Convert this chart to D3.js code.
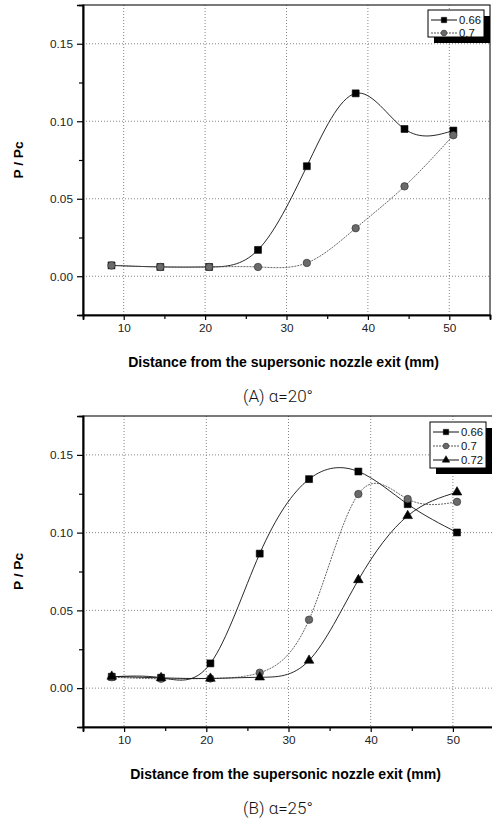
<!DOCTYPE html>
<html>
<head>
<meta charset="utf-8">
<script src="https://cdn.jsdelivr.net/npm/d3@7"></script>
<style>
  body { margin: 0; background: #fff; }
  svg { display: block; }
</style>
</head>
<body>
<div id="chart"></div>
<script>
let svgWidth = 492;
let svgHeight = 822;

// distance from nozzle exit (mm), same stations for every series
let distances = [8.5, 14.5, 20.5, 26.5, 32.5, 38.5, 44.5, 50.5];

// panel A, alpha = 20 deg
let seriesNamesA = ["0.66", "0.7"];
let a066 = [0.007, 0.006, 0.006, 0.017, 0.071, 0.118, 0.095, 0.094];
let a070 = [0.007, 0.006, 0.006, 0.006, 0.0086, 0.031, 0.058, 0.091];

// panel B, alpha = 25 deg
let seriesNamesB = ["0.66", "0.7", "0.72"];
let b066 = [0.0073, 0.0067, 0.0159, 0.0865, 0.1344, 0.1393, 0.1183, 0.1001];
let b070 = [0.007, 0.006, 0.0062, 0.0099, 0.044, 0.1248, 0.1216, 0.1198];
let b072 = [0.0075, 0.0066, 0.0062, 0.007, 0.0178, 0.0696, 0.1108, 0.126];

let xMajor = [10, 20, 30, 40, 50];
let xMinor = [15, 25, 35, 45];
let yMajor = [0, 0.05, 0.10, 0.15];
let yMinor = [0.025, 0.075, 0.125];

let xTitle = "Distance from the supersonic nozzle exit (mm)";
let yTitle = "P / Pc";

let sans = "Arimo, 'Liberation Sans', Arial, Helvetica, sans-serif";

let svg = d3.select("#chart")
    .append("svg")
    .attr("width", svgWidth)
    .attr("height", svgHeight);

// pick a font size so a sample string comes out at the wanted width
function fitSize(sample, weight, wanted) {
    let t = svg.append("text")
        .style("font-family", sans)
        .style("font-weight", weight)
        .style("font-size", "20px")
        .text(sample);
    let w = t.node().getComputedTextLength();
    t.remove();
    return w > 0 ? 20 * wanted / w : 12;
}

let tickSize = fitSize("0.15", "normal", 23);
let legendSize = fitSize("0.66", "normal", 22);
let titleSize = fitSize(xTitle, "bold", 311);
let yTitleSize = fitSize(yTitle, "bold", 37);

// marker styles per series index
let markerStyles = [
    { shape: d3.symbolSquare, size: 48, fill: "#000", stroke: "#000", line: "#111", dash: null },
    { shape: d3.symbolCircle, size: 44, fill: "#6a6a6a", stroke: "#2a2a2a", line: "#555", dash: "2,1" },
    { shape: d3.symbolTriangle, size: 40, fill: "#000", stroke: "#000", line: "#111", dash: null }
];

function drawPanel(box, names, seriesList, caption, legendBox) {
    let x = d3.scaleLinear().domain([5, 55]).range([box.left, box.right]);
    let y = d3.scaleLinear().domain([-0.025, 0.175]).range([box.bottom, box.top]);

    let g = svg.append("g");

    // dotted grid
    g.append("g").selectAll("line")
        .data(xMajor)
        .enter()
        .append("line")
        .attr("x1", d => x(d)).attr("x2", d => x(d))
        .attr("y1", box.top).attr("y2", box.bottom)
        .attr("stroke", "#777")
        .attr("stroke-width", 0.9)
        .attr("stroke-dasharray", "1,2");

    g.append("g").selectAll("line")
        .data(yMajor)
        .enter()
        .append("line")
        .attr("y1", d => y(d)).attr("y2", d => y(d))
        .attr("x1", box.left).attr("x2", box.right)
        .attr("stroke", "#777")
        .attr("stroke-width", 0.9)
        .attr("stroke-dasharray", "1,2");

    // frame
    g.append("rect")
        .attr("x", box.left).attr("y", box.top)
        .attr("width", box.right - box.left)
        .attr("height", box.bottom - box.top)
        .attr("fill", "none")
        .attr("stroke", "#222")
        .attr("stroke-width", 1.2);

    // axes
    let bottomAxis = d3.axisBottom(x).tickValues(xMajor).tickSize(5).tickPadding(4)
        .tickFormat(d3.format("d"));
    let bottomMinor = d3.axisBottom(x).tickValues(xMinor).tickSize(4).tickFormat("");
    let leftAxis = d3.axisLeft(y).tickValues(yMajor).tickSize(6).tickPadding(4)
        .tickFormat(d3.format(".2f"));
    let leftMinor = d3.axisLeft(y).tickValues(yMinor).tickSize(4).tickFormat("");

    [
        [bottomAxis, `translate(0, ${box.bottom})`],
        [bottomMinor, `translate(0, ${box.bottom})`],
        [leftAxis, `translate(${box.left}, 0)`],
        [leftMinor, `translate(${box.left}, 0)`]
    ].forEach(function (pair) {
        let ax = g.append("g")
            .attr("transform", pair[1])
            .call(pair[0]);
        ax.select(".domain").attr("stroke", "#000").attr("stroke-width", 1.6);
        ax.selectAll(".tick line").attr("stroke", "#000").attr("stroke-width", 1.2);
        ax.selectAll("text")
            .attr("fill", "#222")
            .style("font-family", sans)
            .style("font-size", tickSize + "px");
    });

    // curves
    let line = d3.line()
        .x((d, i) => x(distances[i]))
        .y(d => y(d))
        .curve(d3.curveNatural);

    seriesList.forEach(function (vals, s) {
        let st = markerStyles[s];
        g.append("path")
            .datum(vals)
            .attr("d", line)
            .attr("fill", "none")
            .attr("stroke", st.line)
            .attr("stroke-width", 0.9)
            .attr("stroke-dasharray", st.dash);
    });

    seriesList.forEach(function (vals, s) {
        let st = markerStyles[s];
        g.append("g").selectAll("path")
            .data(vals)
            .enter()
            .append("path")
            .attr("d", d3.symbol().type(st.shape).size(st.size))
            .attr("transform", (d, i) => `translate(${x(distances[i])}, ${y(d)})`)
            .attr("fill", st.fill)
            .attr("stroke", st.stroke)
            .attr("stroke-width", 0.6);
    });

    // legend with drop shadow
    let lg = g.append("g");
    lg.append("rect")
        .attr("x", legendBox.x + 6).attr("y", legendBox.y + 6)
        .attr("width", legendBox.w).attr("height", legendBox.h)
        .attr("fill", "#000");
    lg.append("rect")
        .attr("x", legendBox.x).attr("y", legendBox.y)
        .attr("width", legendBox.w).attr("height", legendBox.h)
        .attr("fill", "#fff")
        .attr("stroke", "#000")
        .attr("stroke-width", 1);

    names.forEach(function (name, s) {
        let st = markerStyles[s];
        let yy = legendBox.y + 10 + s * legendBox.step;
        lg.append("line")
            .attr("x1", legendBox.x + 3).attr("x2", legendBox.x + 29)
            .attr("y1", yy).attr("y2", yy)
            .attr("stroke", st.line)
            .attr("stroke-width", 1)
            .attr("stroke-dasharray", st.dash);
        lg.append("path")
            .attr("d", d3.symbol().type(st.shape).size(st.size * 0.6))
            .attr("transform", `translate(${legendBox.x + 16}, ${yy})`)
            .attr("fill", st.fill)
            .attr("stroke", st.stroke)
            .attr("stroke-width", 0.5);
        lg.append("text")
            .attr("x", legendBox.x + 31)
            .attr("y", yy)
            .attr("dy", "0.35em")
            .style("font-family", sans)
            .style("font-size", legendSize + "px")
            .attr("fill", "#111")
            .text(name);
    });

    // axis titles
    g.append("text")
        .attr("x", (box.left + box.right) / 2 - 3)
        .attr("y", box.bottom + 52)
        .attr("text-anchor", "middle")
        .style("font-family", sans)
        .style("font-size", titleSize + "px")
        .style("font-weight", "bold")
        .attr("fill", "#000")
        .text(xTitle);

    g.append("text")
        .attr("transform", `translate(23, ${(box.top + box.bottom) / 2}) rotate(-90)`)
        .attr("text-anchor", "middle")
        .style("font-family", sans)
        .style("font-size", yTitleSize + "px")
        .style("font-weight", "bold")
        .attr("fill", "#000")
        .text(yTitle);

    // panel caption
    g.append("text")
        .attr("x", 278)
        .attr("y", box.bottom + 87)
        .attr("text-anchor", "middle")
        .style("font-family", "'Liberation Sans Narrow', Roboto, sans-serif")
        .style("font-size", "17px")
        .style("font-weight", "300")
        .attr("fill", "#111")
        .text(caption);
}

drawPanel({ left: 83, right: 490, top: 5, bottom: 315 },
    seriesNamesA, [a066, a070], "(A)  \u03b1=20\u00b0",
    { x: 428, y: 10, w: 56, h: 27, step: 13 });

drawPanel({ left: 83, right: 494, top: 416, bottom: 727 },
    seriesNamesB, [b066, b070, b072], "(B)  \u03b1=25\u00b0",
    { x: 430, y: 422, w: 56, h: 46, step: 14 });
</script>
</body>
</html>
